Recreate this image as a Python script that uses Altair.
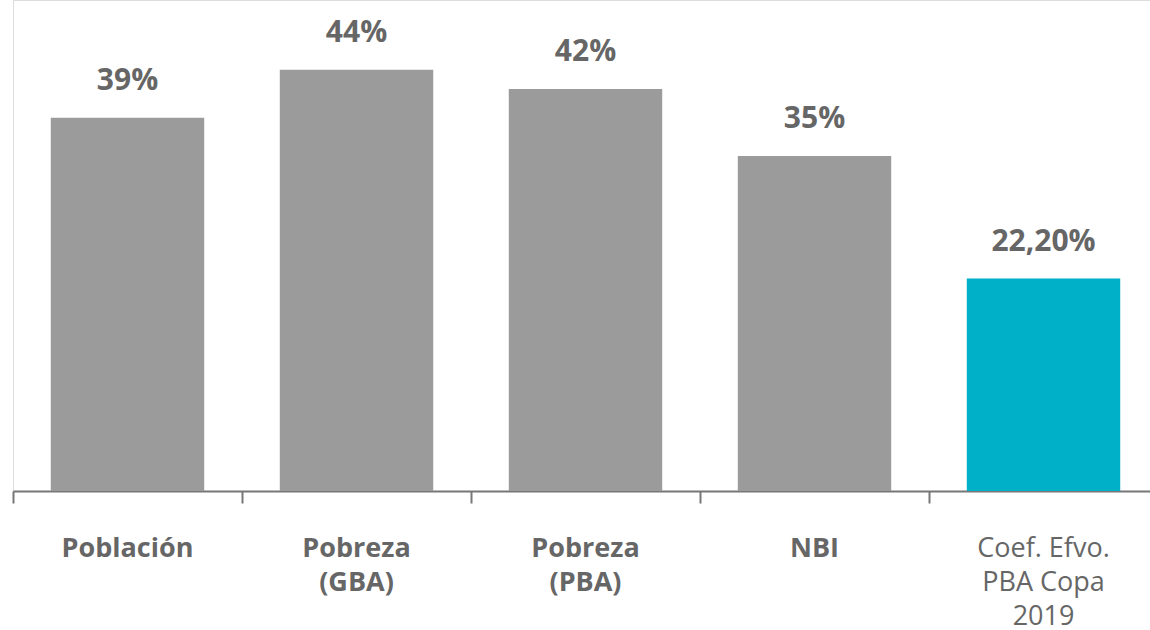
import altair as alt
import pandas as pd

# Categories ("|" marks a line break in the axis label)
categories = ["Población", "Pobreza|(GBA)", "Pobreza|(PBA)", "NBI", "Coef. Efvo.|PBA Copa|2019"]
values = [39, 44, 42, 35, 22.2]
value_labels = ["39%", "44%", "42%", "35%", "22,20%"]
highlight = [False, False, False, False, True]

df = pd.DataFrame({
    "categoria": categories,
    "valor": values,
    "etiqueta": value_labels,
    "destacado": highlight,
})

FONT = "Open Sans"
TEXT_COLOR = "#666666"

x_enc = alt.X(
    "categoria:N",
    sort=categories,
    scale=alt.Scale(paddingInner=0, paddingOuter=0, range=[0, 1145]),
    axis=alt.Axis(
        title=None,
        labelAngle=0,
        labelExpr="split(datum.label, '|')",
        labelFont=FONT,
        labelFontSize=27,
        labelLineHeight=34,
        labelColor=TEXT_COLOR,
        labelFontWeight={
            "condition": {"test": "indexof(datum.value, 'Coef') >= 0", "value": "normal"},
            "value": "bold",
        },
        labelPadding=32,
        labelBaseline="top",
        bandPosition=0,
        tickSize=12,
        tickWidth=2,
        tickColor="#777777",
        domainColor="#777777",
        domainWidth=2,
        grid=False,
    ),
)

y_enc = alt.Y(
    "valor:Q",
    scale=alt.Scale(domain=[0, 51.3], nice=False, zero=True),
    axis=None,
)

base = alt.Chart(df).encode(x=x_enc, y=y_enc)

bars = base.mark_bar(width=alt.RelativeBandSize(0.67)).encode(
    color=alt.Color(
        "destacado:N",
        scale=alt.Scale(domain=[False, True], range=["#9b9b9b", "#00b0c8"]),
        legend=None,
    )
)

labels = base.mark_text(
    baseline="bottom",
    dy=-22,
    font=FONT,
    fontSize=30,
    fontWeight="bold",
    color=TEXT_COLOR,
).encode(text="etiqueta:N")

chart = (
    alt.layer(bars, labels)
    .properties(
        width=1137,
        height=491,
        autosize=alt.AutoSizeParams(type="none"),
        padding={"left": 13, "right": 0, "top": 0, "bottom": 139},
    )
    .configure_view(stroke="transparent", strokeWidth=0)
    .configure(background="white")
)

chart.save("out.html", embed_options={"renderer": "svg", "actions": False})
